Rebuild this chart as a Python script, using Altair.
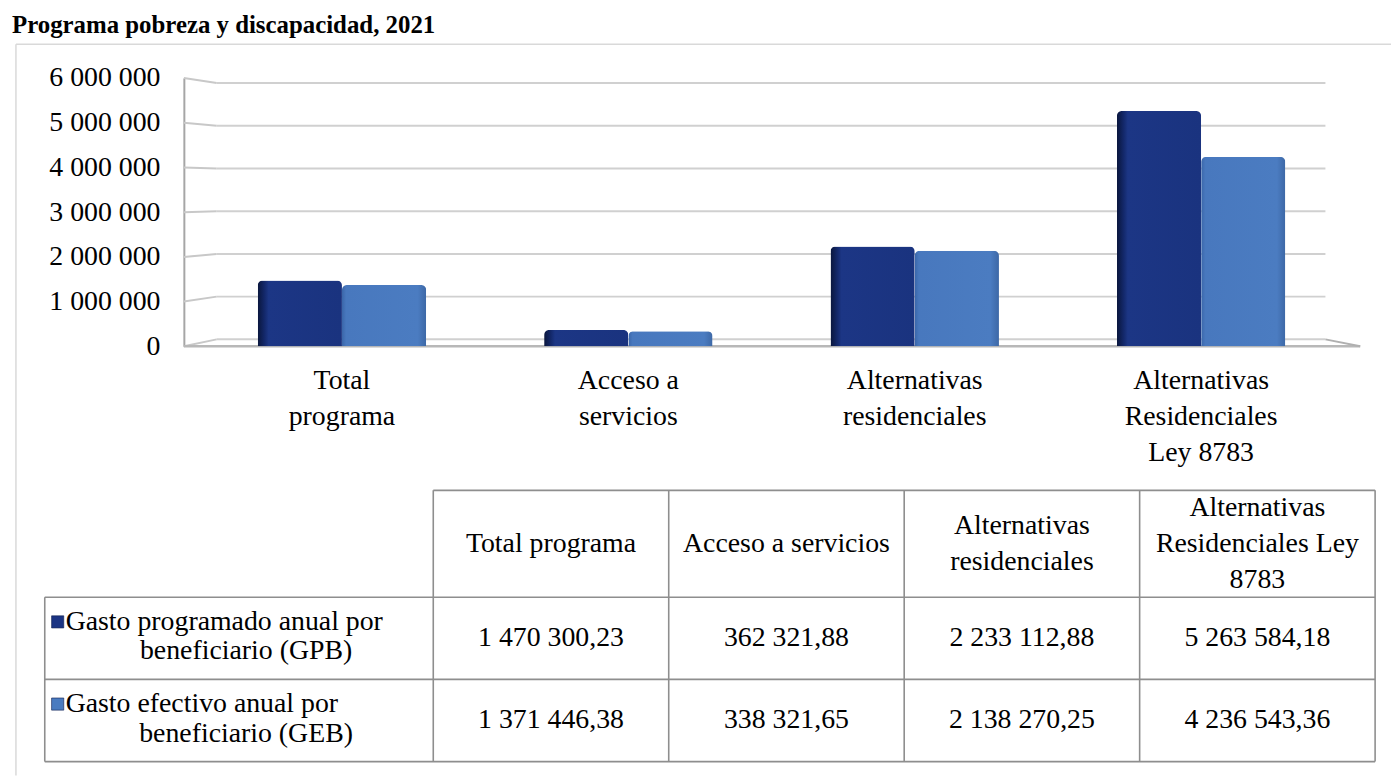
import altair as alt
import pandas as pd

# ---------------- data ----------------
title_text = "Programa pobreza y discapacidad, 2021"
categories = ["Total programa", "Acceso a servicios", "Alternativas residenciales",
              "Alternativas Residenciales Ley 8783"]
axis_labels = ["Total\nprograma", "Acceso a\nservicios", "Alternativas\nresidenciales",
               "Alternativas\nResidenciales\nLey 8783"]
header_labels = ["Total programa", "Acceso a servicios", "Alternativas\nresidenciales",
                 "Alternativas\nResidenciales Ley\n8783"]
series_codes = ["GPB", "GEB"]
series_line1 = ["Gasto programado anual por", "Gasto efectivo anual por"]
series_line2 = ["beneficiario (GPB)", "beneficiario (GEB)"]
gpb_values = [1470300.23, 362321.88, 2233112.88, 5263584.18]
geb_values = [1371446.38, 338321.65, 2138270.25, 4236543.36]
y_tick_values = [0, 1000000, 2000000, 3000000, 4000000, 5000000, 6000000]

# ---------------- style / layout ----------------
FONT = "Liberation Serif"
FS = 28
DARK = "#1b3483"
LIGHT = "#4a7bc0"
W, H = 1384, 736

WALL_X, BACK_X, BACK_R, FLOOR_R = 169, 202, 1318, 1353
y_scale = alt.Scale(domain=[0, 6000000], range=[304, 34])
x_scale = alt.Scale(domain=categories, range=[184, 1337], paddingInner=0, paddingOuter=0)
xo_scale = alt.Scale(domain=series_codes, paddingInner=0, paddingOuter=0.7)
back_expr = "155600 + 0.9556 * datum.v"

y_axis = alt.Axis(values=y_tick_values, format=",.0f", offset=-WALL_X, tickSize=0,
                  labelPadding=24, grid=False, domain=True, domainColor="#a6a6a6",
                  domainWidth=2, labelFont=FONT, labelFontSize=FS, labelColor="#000000",
                  title=None)

bars_df = pd.DataFrame({
    "category": categories * 2,
    "series": [series_codes[0]] * len(categories) + [series_codes[1]] * len(categories),
    "value": gpb_values + geb_values,
})
labels_df = pd.DataFrame({"category": categories, "label": axis_labels})
grid_df = pd.DataFrame({"v": y_tick_values})

# ---------------- chart part ----------------
grid_back = alt.Chart(grid_df).transform_calculate(yb=back_expr).mark_rule(
    color="#d0d0d0", strokeWidth=2).encode(
    y=alt.Y("yb:Q", scale=y_scale, axis=y_axis),
    x=alt.value(BACK_X), x2=alt.value(BACK_R))

grid_slant = alt.Chart(grid_df).transform_calculate(yb=back_expr).mark_rule(
    color="#c8c8c8", strokeWidth=2).encode(
    y=alt.Y("v:Q", scale=y_scale, axis=y_axis), y2="yb:Q",
    x=alt.value(WALL_X), x2=alt.value(BACK_X))

floor_front = alt.Chart(grid_df).transform_filter("datum.v == 0").mark_rule(
    color="#b8b8b8", strokeWidth=2.5).encode(
    y=alt.Y("v:Q", scale=y_scale, axis=y_axis),
    x=alt.value(WALL_X), x2=alt.value(FLOOR_R))

floor_right = alt.Chart(grid_df).transform_filter("datum.v == 0").transform_calculate(
    yb=back_expr).mark_rule(color="#b0b0b0", strokeWidth=2).encode(
    y=alt.Y("yb:Q", scale=y_scale, axis=y_axis), y2="v:Q",
    x=alt.value(BACK_R), x2=alt.value(FLOOR_R))

dark_grad = alt.LinearGradient(gradient="linear", x1=0, x2=1, y1=0, y2=0, stops=[
    alt.GradientStop(offset=0, color="#0a163c"),
    alt.GradientStop(offset=0.08, color="#13286a"),
    alt.GradientStop(offset=0.13, color="#1c3685"),
    alt.GradientStop(offset=1, color="#1a337f")])
light_grad = alt.LinearGradient(gradient="linear", x1=0, x2=1, y1=0, y2=0, stops=[
    alt.GradientStop(offset=0, color="#3a66a9"),
    alt.GradientStop(offset=0.05, color="#4878be"),
    alt.GradientStop(offset=0.9, color="#4b7cc1"),
    alt.GradientStop(offset=1, color="#3d68a6")])


def bar_layer(code, grad):
    return alt.Chart(bars_df).transform_filter(alt.datum.series == code).mark_bar(
        color=grad, cornerRadiusTopLeft=5, cornerRadiusTopRight=5).encode(
        x=alt.X("category:N", scale=x_scale, axis=None),
        xOffset=alt.XOffset("series:N", scale=xo_scale),
        y=alt.Y("value:Q", scale=y_scale, axis=y_axis),
    )


bars_dark = bar_layer(series_codes[0], dark_grad)
bars_light = bar_layer(series_codes[1], light_grad)

cat_text = alt.Chart(labels_df).mark_text(
    font=FONT, fontSize=FS, lineBreak="\n", lineHeight=36, align="center",
    baseline="alphabetic", color="#000000").encode(
    x=alt.X("category:N", scale=x_scale, axis=None),
    y=alt.value(347), text="label:N")

chart_group = alt.layer(grid_back, grid_slant, floor_front, floor_right,
                        bars_dark, bars_light, cat_text)

# ---------------- table part ----------------
ROWHEAD = 1.65
HEADER = 1.3
ncol = len(categories)
nrow = len(series_codes)
col_edges = [0] + [ROWHEAD + i for i in range(ncol + 1)]
row_edges = [0] + [HEADER + r for r in range(nrow + 1)]
T_TOP, T_BOT = 449, 722
PX_PER_ROW = (T_BOT - T_TOP) / row_edges[-1]
tx = alt.Scale(domain=[0, col_edges[-1]], range=[29, 1368])
ty = alt.Scale(domain=[0, row_edges[-1]], range=[T_TOP, T_BOT])

hl_df = pd.DataFrame({"y": row_edges,
                      "x": [ROWHEAD] + [0] * (len(row_edges) - 1),
                      "x2": [col_edges[-1]] * len(row_edges)})
vl_df = pd.DataFrame({"x": col_edges,
                      "y": [HEADER] + [0] * (len(col_edges) - 1),
                      "y2": [row_edges[-1]] * len(col_edges)})

LINE = "#8e8e8e"
hlines = alt.Chart(hl_df).mark_rule(color=LINE, strokeWidth=1.6).encode(
    x=alt.X("x:Q", scale=tx, axis=None), x2="x2:Q",
    y=alt.Y("y:Q", scale=ty, axis=None))
vlines = alt.Chart(vl_df).mark_rule(color=LINE, strokeWidth=1.6).encode(
    x=alt.X("x:Q", scale=tx, axis=None),
    y=alt.Y("y:Q", scale=ty, axis=None), y2="y2:Q")

HEAD_LH = 36
head_df = pd.DataFrame({
    "label": header_labels,
    "x": [ROWHEAD + i + 0.5 for i in range(ncol)],
    "y": [HEADER / 2 - (lab.count("\n") * HEAD_LH / 2) / PX_PER_ROW for lab in header_labels],
})
head_text = alt.Chart(head_df).mark_text(
    font=FONT, fontSize=FS, lineBreak="\n", lineHeight=HEAD_LH, align="center",
    baseline="middle", color="#000000").encode(
    x=alt.X("x:Q", scale=tx, axis=None), y=alt.Y("y:Q", scale=ty, axis=None),
    text="label:N")

val_df = pd.DataFrame({
    "value": gpb_values + geb_values,
    "x": [ROWHEAD + i + 0.5 for i in range(ncol)] * nrow,
    "y": [HEADER + 0.5] * ncol + [HEADER + 1.5] * ncol,
})
val_text = alt.Chart(val_df).mark_text(
    font=FONT, fontSize=FS, align="center", baseline="middle", color="#000000").encode(
    x=alt.X("x:Q", scale=tx, axis=None), y=alt.Y("y:Q", scale=ty, axis=None),
    text=alt.Text("value:Q", format=",.2f"))

rh_df = pd.DataFrame({
    "series": series_codes,
    "line1": series_line1,
    "line2": series_line2,
    "x0": [0] * nrow,
    "xc": [ROWHEAD / 2 + 0.03] * nrow,
    "y1": [HEADER + r + 0.3 for r in range(nrow)],
    "y2": [HEADER + r + 0.66 for r in range(nrow)],
})
rh_line1 = alt.Chart(rh_df).mark_text(
    font=FONT, fontSize=FS, align="left", baseline="middle", color="#000000",
    xOffset=21).encode(
    x=alt.X("x0:Q", scale=tx, axis=None), y=alt.Y("y1:Q", scale=ty, axis=None),
    text="line1:N")
rh_line2 = alt.Chart(rh_df).mark_text(
    font=FONT, fontSize=FS, align="center", baseline="middle", color="#000000").encode(
    x=alt.X("xc:Q", scale=tx, axis=None), y=alt.Y("y2:Q", scale=ty, axis=None),
    text="line2:N")
squares = alt.Chart(rh_df).mark_square(size=150, opacity=1, xOffset=13,
                                       stroke="#0d1c4d", strokeWidth=0.6).encode(
    x=alt.X("x0:Q", scale=tx, axis=None), y=alt.Y("y1:Q", scale=ty, axis=None),
    color=alt.Color("series:N", scale=alt.Scale(domain=series_codes, range=[DARK, LIGHT]),
                    legend=None))

one = pd.DataFrame({"a": [0]})
border_left = alt.Chart(one).mark_rule(color="#d9d9d9", strokeWidth=1.5).encode(
    x=alt.value(0), y=alt.value(0), y2=alt.value(H))
border_top = alt.Chart(one).mark_rule(color="#d9d9d9", strokeWidth=1.5).encode(
    x=alt.value(0), x2=alt.value(W), y=alt.value(0))

table_group = alt.layer(border_left, border_top, hlines, vlines, head_text, val_text,
                        rh_line1, rh_line2, squares)

chart = alt.layer(chart_group, table_group).resolve_scale(
    x="independent", y="independent", color="independent"
).properties(
    width=W, height=H,
    padding={"left": 4, "right": 0, "top": 2, "bottom": 0},
    title=alt.TitleParams(text=title_text, anchor="start", frame="group", font=FONT,
                          fontSize=25, fontWeight="bold", color="#000000", dx=-4,
                          offset=6),
).configure(
    locale={"number": {"decimal": ",", "thousands": " ", "grouping": [3],
                       "currency": ["", ""]}}
).configure_view(stroke=None)

chart.save("out.html", embed_options={"renderer": "svg", "actions": False})
